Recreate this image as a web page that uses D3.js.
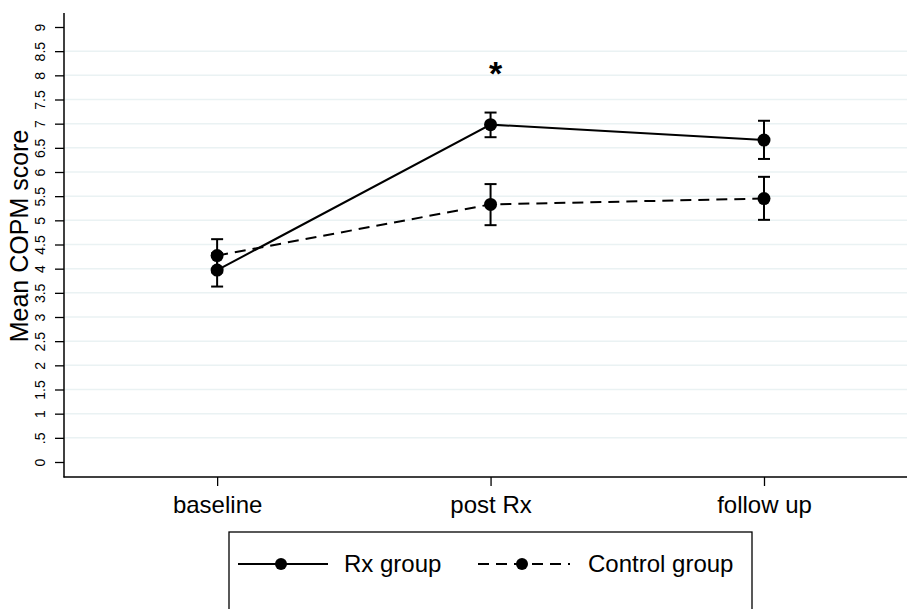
<!DOCTYPE html>
<html>
<head>
<meta charset="utf-8">
<script src="https://cdn.jsdelivr.net/npm/d3@7"></script>
<style>
  body { margin: 0; background: #fff; }
  text { font-family: "Liberation Sans", Arial, sans-serif; fill: #000; }
</style>
</head>
<body>
<div id="wrapper"></div>
<script>
// time points
var phases = ["baseline", "post Rx", "follow up"];

// Rx group: mean and 95% CI
var rxMean  = [3.97, 6.98, 6.66];
var rxLow   = [3.63, 6.72, 6.27];
var rxHigh  = [4.32, 7.23, 7.06];

// Control group
var ctlMean = [4.27, 5.33, 5.45];
var ctlLow  = [3.92, 4.90, 5.01];
var ctlHigh = [4.61, 5.75, 5.90];

var yTicks = [0, .5, 1, 1.5, 2, 2.5, 3, 3.5, 4, 4.5, 5, 5.5, 6, 6.5, 7, 7.5, 8, 8.5, 9];
var yTickLabels = ["0", ".5", "1", "1.5", "2", "2.5", "3", "3.5", "4", "4.5", "5", "5.5", "6", "6.5", "7", "7.5", "8", "8.5", "9"];
var gridVals = [.5, 1, 1.5, 2, 2.5, 3, 3.5, 4, 4.5, 5, 5.5, 6, 6.5, 7, 7.5, 8, 8.5];

var w = 907, h = 609;

var svg = d3.select("#wrapper").append("svg")
    .attr("width", w).attr("height", h);

// scales
var x = d3.scaleLinear().domain([0.44, 3.523]).range([64, 907]);
var y = d3.scaleLinear().domain([0, 9]).range([462, 27]);

// grid lines
svg.append("g").selectAll("line")
    .data(gridVals).enter().append("line")
    .attr("x1", 65).attr("x2", w)
    .attr("y1", function(d){ return y(d); })
    .attr("y2", function(d){ return y(d); })
    .attr("stroke", "#eaf2f3")
    .attr("stroke-width", 1.5);

// y axis
var yAxis = d3.axisLeft(y)
    .tickValues(yTicks)
    .tickFormat(function(d, i){ return yTickLabels[i]; })
    .tickSize(9)
    .tickPadding(4);

var gy = svg.append("g").attr("transform", "translate(64,0)").call(yAxis);
gy.select(".domain").remove();
gy.selectAll(".tick line").attr("stroke", "#000").attr("stroke-width", 1.3);
gy.selectAll(".tick text")
    .attr("font-size", 14)
    .attr("text-anchor", "middle")
    .attr("x", null).attr("dy", null)
    .attr("transform", "translate(-24,0) rotate(-90)")
    .attr("y", 5);
svg.append("line")
    .attr("x1", 64).attr("x2", 64).attr("y1", 13).attr("y2", 477.5)
    .attr("stroke", "#000").attr("stroke-width", 1.5);

// x axis
var xAxis = d3.axisBottom(x)
    .tickValues([1, 2, 3])
    .tickFormat(function(d){ return phases[d - 1]; })
    .tickSize(9)
    .tickPadding(5);

var gx = svg.append("g").attr("transform", "translate(0,477)").call(xAxis);
gx.select(".domain").remove();
gx.selectAll(".tick line").attr("stroke", "#000").attr("stroke-width", 1.3);
gx.selectAll(".tick text").attr("font-size", 24).attr("dy", "0.92em");
svg.append("line")
    .attr("x1", 63.5).attr("x2", w).attr("y1", 477).attr("y2", 477)
    .attr("stroke", "#000").attr("stroke-width", 1.5);

// y axis title
svg.append("text")
    .attr("transform", "translate(28,236) rotate(-90)")
    .attr("text-anchor", "middle")
    .attr("font-size", 25)
    .text("Mean COPM score");

function drawSeries(mean, lo, hi, dash) {
    var g = svg.append("g");
    var pts = mean.map(function(m, i){ return {i: i + 1, m: m, lo: lo[i], hi: hi[i]}; });

    // error bars
    g.selectAll(".ci").data(pts).enter().append("line")
        .attr("x1", function(d){ return x(d.i); })
        .attr("x2", function(d){ return x(d.i); })
        .attr("y1", function(d){ return y(d.lo); })
        .attr("y2", function(d){ return y(d.hi); })
        .attr("stroke", "#000").attr("stroke-width", 2);
    ["lo", "hi"].forEach(function(k){
        g.selectAll(".cap" + k).data(pts).enter().append("line")
            .attr("x1", function(d){ return x(d.i) - 6; })
            .attr("x2", function(d){ return x(d.i) + 6; })
            .attr("y1", function(d){ return y(d[k]); })
            .attr("y2", function(d){ return y(d[k]); })
            .attr("stroke", "#000").attr("stroke-width", 2);
    });

    var line = d3.line()
        .x(function(d){ return x(d.i); })
        .y(function(d){ return y(d.m); });
    g.append("path").datum(pts)
        .attr("d", line)
        .attr("fill", "none")
        .attr("stroke", "#000")
        .attr("stroke-width", 2)
        .attr("stroke-dasharray", dash);

    g.selectAll("circle").data(pts).enter().append("circle")
        .attr("cx", function(d){ return x(d.i); })
        .attr("cy", function(d){ return y(d.m); })
        .attr("r", 6.5)
        .attr("fill", "#000");
}

drawSeries(ctlMean, ctlLow, ctlHigh, "11,7");
drawSeries(rxMean, rxLow, rxHigh, null);

// significance marker
svg.append("text")
    .attr("x", x(2) + 5).attr("y", 85)
    .attr("text-anchor", "middle")
    .attr("font-size", 34)
    .attr("font-weight", "bold")
    .text("*");

// legend
var leg = svg.append("g");
leg.append("rect")
    .attr("x", 229).attr("y", 532).attr("width", 523).attr("height", 100)
    .attr("fill", "#fff").attr("stroke", "#000").attr("stroke-width", 1.3);

var legItems = [
    {label: "Rx group", x0: 238, x1: 328, tx: 344, dash: null},
    {label: "Control group", x0: 478, x1: 570, tx: 588, dash: "11,7"}
];
legItems.forEach(function(it){
    leg.append("line")
        .attr("x1", it.x0).attr("x2", it.x1).attr("y1", 564).attr("y2", 564)
        .attr("stroke", "#000").attr("stroke-width", 2)
        .attr("stroke-dasharray", it.dash);
    leg.append("circle")
        .attr("cx", (it.x0 + it.x1) / 2 - 2).attr("cy", 564).attr("r", 6)
        .attr("fill", "#000");
    leg.append("text")
        .attr("x", it.tx).attr("y", 572)
        .attr("font-size", 24)
        .text(it.label);
});
</script>
</body>
</html>
